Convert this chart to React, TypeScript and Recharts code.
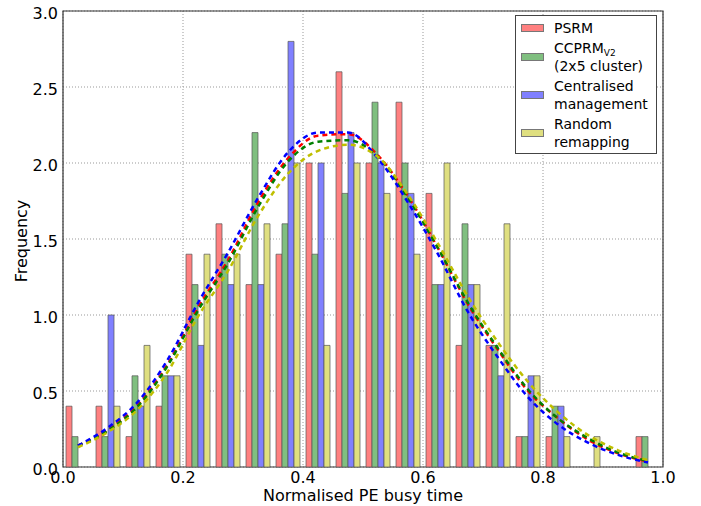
import React from 'react';
import {
  ComposedChart,
  Bar,
  Line,
  XAxis,
  YAxis,
  CartesianGrid,
  ReferenceArea,
  Legend,
  Label,
} from 'recharts';

// Bin centres (normalised PE busy time), 20 bins of width 0.05
const binCenters = [0.025, 0.075, 0.125, 0.175, 0.225, 0.275, 0.325, 0.375, 0.425, 0.475,
  0.525, 0.575, 0.625, 0.675, 0.725, 0.775, 0.825, 0.875, 0.925, 0.975];

// Histogram frequencies
const psrm = [0.4, 0.4, 0.2, 0.4, 1.4, 1.6, 1.2, 1.4, 2.0, 2.6, 2.0, 2.4, 1.8, 0.8, 0.8, 0.2, 0.2, 0, 0, 0.2];
const ccprm = [0.2, 0.2, 0.6, 0.6, 1.2, 1.4, 2.2, 1.6, 1.4, 1.8, 2.4, 2.0, 1.2, 1.6, 0.8, 0.2, 0.4, 0, 0, 0.2];
const centralised = [0, 1.0, 0.4, 0.6, 0.8, 1.2, 1.2, 2.8, 2.0, 2.2, 2.0, 1.8, 1.2, 1.2, 0.6, 0.6, 0.4, 0, 0, 0];
const randomRemap = [0, 0.4, 0.8, 0.6, 1.4, 1.4, 1.6, 2.0, 0.8, 2.0, 1.8, 1.4, 2.0, 1.2, 1.6, 0.6, 0.2, 0.2, 0, 0];

// Fitted normal curves, read at the bin centres
const psrmFit = [0.14, 0.245, 0.41, 0.68, 1.05, 1.36, 1.74, 2.03, 2.18, 2.19, 2.05, 1.78, 1.44, 1.07, 0.77, 0.50, 0.32, 0.18, 0.09, 0.035];
const ccprmFit = [0.14, 0.24, 0.40, 0.67, 1.03, 1.34, 1.71, 2.01, 2.14, 2.15, 2.04, 1.77, 1.44, 1.08, 0.78, 0.51, 0.32, 0.19, 0.095, 0.04];
const centralisedFit = [0.14, 0.26, 0.43, 0.71, 1.08, 1.41, 1.77, 2.07, 2.20, 2.20, 2.03, 1.74, 1.40, 1.02, 0.72, 0.46, 0.28, 0.16, 0.08, 0.03];
const randomFit = [0.13, 0.23, 0.38, 0.63, 0.99, 1.29, 1.65, 1.93, 2.08, 2.12, 2.04, 1.79, 1.47, 1.12, 0.82, 0.56, 0.36, 0.21, 0.11, 0.045];

const xTicks = [0, 0.2, 0.4, 0.6, 0.8, 1.0];
const yTicks = [0, 0.5, 1.0, 1.5, 2.0, 2.5, 3.0];

const xLabel = 'Normalised PE busy time';
const yLabel = 'Frequency';

const series = [
  { key: 'psrm', fit: 'psrmFit', lines: ['PSRM'], fill: '#ff8080', line: '#ff0000' },
  { key: 'ccprm', fit: 'ccprmFit', lines: ['CCPRM', '(2x5 cluster)'], sub: 'V2', fill: '#80bf80', line: '#008000' },
  { key: 'centralised', fit: 'centralisedFit', lines: ['Centralised', 'management'], fill: '#8080ff', line: '#0000ff' },
  { key: 'randomRemap', fit: 'randomFit', lines: ['Random', 'remapping'], fill: '#dfdf80', line: '#bfbf00' },
];

const data = binCenters.map((x, i) => ({
  x,
  psrm: psrm[i],
  ccprm: ccprm[i],
  centralised: centralised[i],
  randomRemap: randomRemap[i],
  psrmFit: psrmFit[i],
  ccprmFit: ccprmFit[i],
  centralisedFit: centralisedFit[i],
  randomFit: randomFit[i],
}));

const FONT = '"DejaVu Sans", sans-serif';

const LegendBox = () => (
  <div
    style={{
      width: 142,
      boxSizing: 'border-box',
      border: '1px solid #444',
      background: '#fff',
      padding: '3px 0 2px 5px',
      fontFamily: FONT,
      fontSize: 14,
      color: '#000',
    }}
  >
    {series.map((s, idx) => (
      <div key={s.key} style={{ display: 'flex', alignItems: 'center', marginTop: idx === 0 ? 0 : 2 }}>
        <div
          style={{
            width: 23,
            height: 8,
            background: s.fill,
            border: '1px solid #777',
            boxSizing: 'border-box',
            marginRight: 10,
            flexShrink: 0,
          }}
        />
        <div style={{ lineHeight: '18px' }}>
          {s.lines.map((t, j) => (
            <div key={j} style={{ whiteSpace: 'nowrap', height: 18 }}>
              {t}
              {j === 0 && s.sub ? (
                <span style={{ fontSize: 9, lineHeight: 0, position: 'relative', top: 3 }}>{s.sub}</span>
              ) : null}
            </div>
          ))}
        </div>
      </div>
    ))}
  </div>
);

export default function App() {
  return (
    <div style={{ position: 'absolute', left: 0, top: 0, fontFamily: FONT }}>
      <ComposedChart
        width={701}
        height={506}
        data={data}
        margin={{ top: 11, right: 38, bottom: 0, left: 0 }}
        barGap={0}
        barCategoryGap="10%"
      >
        <CartesianGrid stroke="#999" strokeDasharray="1 2" />
        <XAxis
          dataKey="x"
          type="number"
          domain={[0, 1]}
          ticks={xTicks}
          tickFormatter={(v: number) => v.toFixed(1)}
          tickLine={false}
          axisLine={false}
          tickSize={0}
          tickMargin={5}
          height={39}
          interval={0}
          tick={{ fill: '#000', fontSize: 16, fontFamily: FONT }}
        >
          <Label
            content={() => (
              <text x={363} y={501} textAnchor="middle" fontSize={16} fontFamily={FONT} fill="#000">
                {xLabel}
              </text>
            )}
          />
        </XAxis>
        <YAxis
          type="number"
          domain={[0, 3]}
          ticks={yTicks}
          tickFormatter={(v: number) => v.toFixed(1)}
          tickLine={false}
          axisLine={false}
          tickSize={0}
          tickMargin={5}
          width={63}
          interval={0}
          tick={{ fill: '#000', fontSize: 16, fontFamily: FONT, dy: 2 }}
        >
          <Label
            content={() => (
              <text
                x={27}
                y={241}
                transform="rotate(-90 27 241)"
                textAnchor="middle"
                fontSize={16}
                fontFamily={FONT}
                fill="#000"
              >
                {yLabel}
              </text>
            )}
          />
        </YAxis>
        {series.map((s) => (
          <Bar
            key={s.key}
            dataKey={s.key}
            fill={s.fill}
            stroke="#555"
            strokeOpacity={0.7}
            strokeWidth={1}
            isAnimationActive={false}
          />
        ))}
        {series.map((s) => (
          <Line
            key={s.fit}
            dataKey={s.fit}
            type="monotone"
            stroke={s.line}
            strokeWidth={2.5}
            strokeDasharray="5 4"
            dot={false}
            activeDot={false}
            legendType="none"
            isAnimationActive={false}
          />
        ))}
        <ReferenceArea x1={0} x2={1} y1={0} y2={3} fill="none" stroke="#333" strokeWidth={1.2} ifOverflow="visible" />
        <Legend
          layout="vertical"
          align="center"
          verticalAlign="middle"
          content={() => <LegendBox />}
          wrapperStyle={{ left: 515, top: 15, width: 'auto', height: 'auto' }}
        />
      </ComposedChart>
    </div>
  );
}
